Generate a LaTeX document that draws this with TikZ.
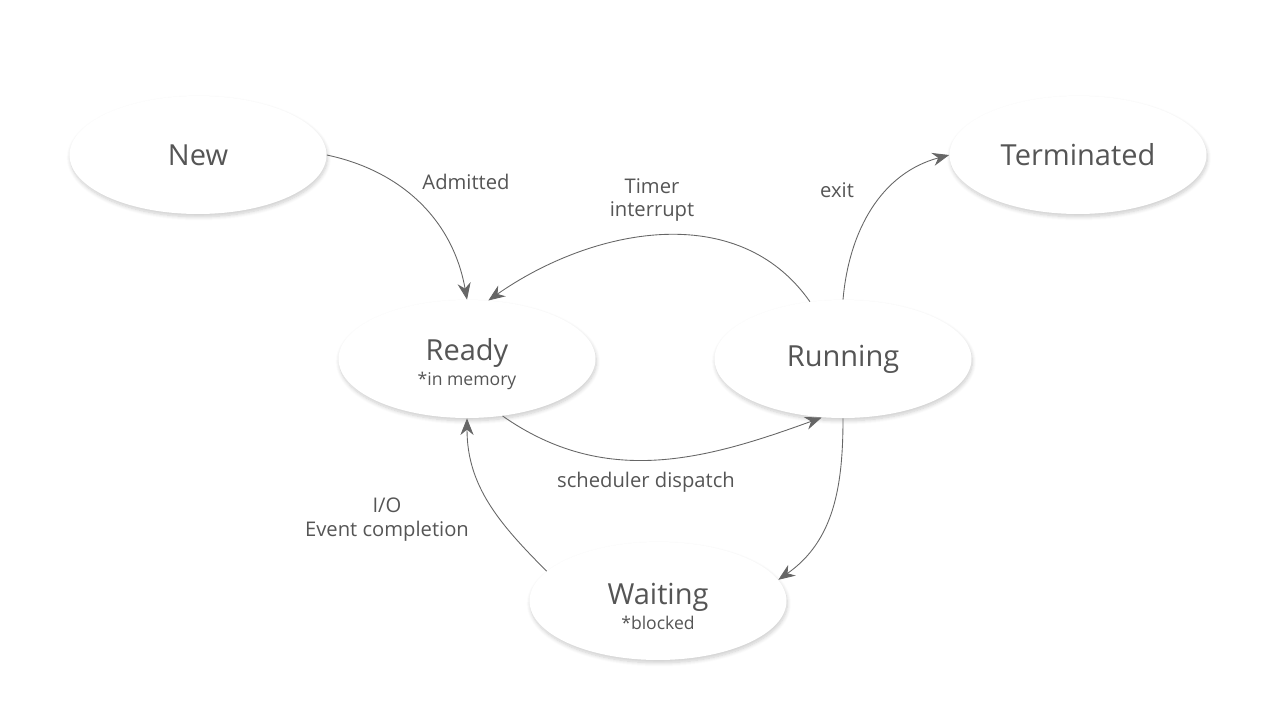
\documentclass[tikz,border=0pt]{standalone}
\usepackage{fontspec}
\setmainfont{Open Sans}
\usetikzlibrary{shapes.geometric,shadows.blur,arrows.meta}
\definecolor{txtgray}{HTML}{555555}
\definecolor{linegray}{HTML}{666666}
\begin{document}
\begin{tikzpicture}[x=0.02cm,y=0.02cm,
    state/.style={ellipse,fill=white,minimum width=5.14cm,minimum height=2.36cm,inner sep=0pt,
        align=center,text=txtgray,font=\fontsize{16.5}{20}\selectfont,
        blur shadow={shadow xshift=0.5pt,shadow yshift=-1.6pt,shadow blur steps=8,shadow opacity=20}},
    lbl/.style={text=txtgray,font=\fontsize{11.5}{13.6}\selectfont,align=center},
    trans/.style={draw=linegray,line width=0.5pt,-{Stealth[length=9.5pt,width=7.5pt]}}]
    \useasboundingbox (0,0) rectangle (1280,-720);
    % states
    \node [state] (new) at (198,-155) {New};
    \node [state] (terminated) at (1078,-155) {Terminated};
    \node [state] (ready) at (467,-359) {\rule{0pt}{18pt}Ready\\[-6pt]{\fontsize{10}{12}\selectfont *in memory}};
    \node [state] (running) at (843,-359) {Running};
    \node [state] (waiting) at (658,-601) {\rule{0pt}{18pt}Waiting\\[-6pt]{\fontsize{10}{12}\selectfont *blocked}};
    % transitions
    \draw [trans] (new.east) to[out=-12,in=100] (ready.north);
    \draw [trans] (running.120) to[out=125,in=35] (ready.70);
    \draw [trans] (running.north) to[out=85,in=195] (terminated.west);
    \draw [trans] (ready.-58) to[out=-35,in=200] (running.250);
    \draw [trans] (running.south) to[out=-90,in=35] (waiting.10);
    \draw [trans] (waiting.165) to[out=135,in=-90] (ready.south);
    % labels
    \node [lbl] (admitted) at (466,-182) {Admitted};
    \node [lbl] (timer) at (652,-200) {Timer\\interrupt};
    \node [lbl] (exit) at (837,-190) {exit};
    \node [lbl] (dispatch) at (646,-482) {scheduler dispatch};
    \node [lbl] (io) at (387,-520) {I/O\\Event completion};
\end{tikzpicture}
\end{document}
